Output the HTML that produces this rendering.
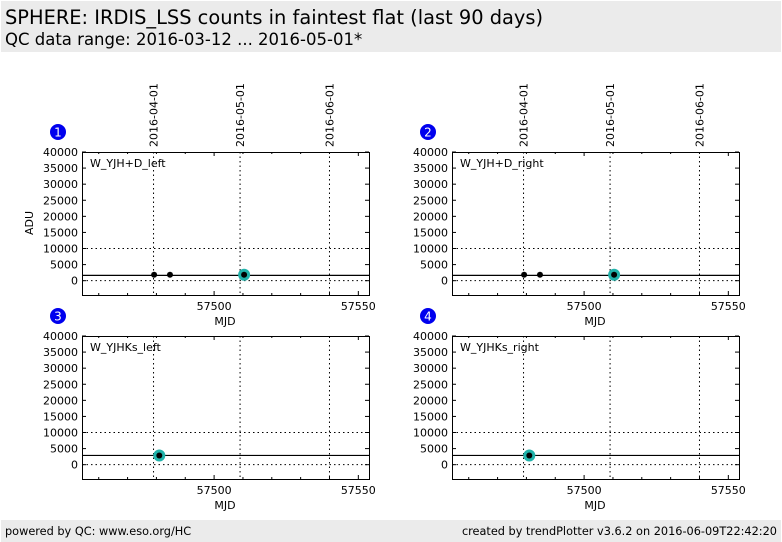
<!DOCTYPE html>
<html><head><meta charset="utf-8"><style>
body{margin:0;width:782px;height:542px;background:#fff;font-family:"Liberation Sans","DejaVu Sans",sans-serif;overflow:hidden;position:relative}
#hdr{position:absolute;left:1px;top:1px;width:780px;height:51px;background:#ebebeb}
#t1{position:absolute;left:4px;top:5px;font-size:19.4px;color:#000;font-family:"DejaVu Sans",sans-serif}
#t2{position:absolute;left:4px;top:29px;font-size:16.5px;color:#000;font-family:"DejaVu Sans",sans-serif}
#ftr{position:absolute;left:1px;top:520px;width:780px;height:22px;background:#ebebeb;font-size:11.3px;font-family:"DejaVu Sans",sans-serif}
#ftr span{position:absolute;top:5px}
svg{position:absolute;left:0;top:0}
</style></head><body>
<div id="hdr">
<div id="t1">SPHERE: IRDIS_LSS counts in faintest flat (last 90 days)</div>
<div id="t2">QC data range: 2016-03-12 ... 2016-05-01*</div>
</div>
<svg id="chart" width="782" height="542" font-family="DejaVu Sans, Liberation Sans, sans-serif"></svg>
<div id="ftr">
<span style="left:4px">powered by QC: www.eso.org/HC</span>
<span style="right:4px">created by trendPlotter v3.6.2 on 2016-06-09T22:42:20</span>
</div>
<script>
const panelNames = ["W_YJH+D_left","W_YJH+D_right","W_YJHKs_left","W_YJHKs_right"];
const panelX = [[57479.2,57484.7,57510.4],[57479.2,57484.7,57510.4],[57481],[57481]];
const panelY = [[1850,1850,1850],[1850,1850,1850],[2870],[2870]];
const highlightIdx = [2,2,0,0];
const medianVals = [1650,1650,2870,2870];
const yTicks = [0,5000,10000,15000,20000,25000,30000,35000,40000];
const xTicks = [57500,57550];
const dateLabels = ["2016-04-01","2016-05-01","2016-06-01"];
const dateMjd = [57479,57509,57540];

const NS="http://www.w3.org/2000/svg";
const svg=document.getElementById('chart');
function mk(t,a,p){const e=document.createElementNS(NS,t);for(const k in a)e.setAttribute(k,a[k]);(p||svg).appendChild(e);return e;}
const W=287, H=143, XMIN=57454.2, XMAX=57553.7, YMIN=-4450, YMAX=40000;
const origins=[[82,152],[452,152],[82,336],[452,336]];

origins.forEach((o,i)=>{
  const g=mk('g',{});
  
  
  const sx=v=>o[0]+(v-XMIN)/(XMAX-XMIN)*W;
  const sy=v=>o[1]+(YMAX-v)/(YMAX-YMIN)*H;
  [0,10000].forEach(v=>{const l=mk('line',{x1:o[0],x2:o[0]+W,y1:sy(v),y2:sy(v),stroke:'#000','stroke-dasharray':'1.5,3','stroke-width':1},g);
    });
  dateMjd.forEach((d,k)=>{const l=mk('line',{x1:sx(d),x2:sx(d),y1:o[1],y2:o[1]+H,stroke:'#000','stroke-dasharray':'1.5,3','stroke-width':1},g);
    
    if(i<2){const t=mk('text',{x:0,y:0,'font-size':11,transform:`translate(${sx(d)+4},${o[1]-5}) rotate(-90)`},g);t.textContent=dateLabels[k];
      }
  });
  const fr=mk('rect',{x:o[0]+0.5,y:o[1]+0.5,width:W,height:H,fill:'none',stroke:'#000'},g);
  
  yTicks.forEach(v=>{const y=sy(v);
    mk('line',{x1:o[0],x2:o[0]+4,y1:y,y2:y,stroke:'#000'},g);
    mk('line',{x1:o[0]+W-4,x2:o[0]+W,y1:y,y2:y,stroke:'#000'},g);
    const t=mk('text',{x:o[0]-4,y:y+4,'font-size':11,'text-anchor':'end'},g);t.textContent=v;
    });
  for(let m=57460;m<=57550;m+=10){const x=sx(m),big=(m%50===0);
    mk('line',{x1:x,x2:x,y1:o[1]+H,y2:o[1]+H-(big?4:2),stroke:'#000'},g);
    mk('line',{x1:x,x2:x,y1:o[1],y2:o[1]+(big?4:2),stroke:'#000'},g);}
  xTicks.forEach(v=>{const t=mk('text',{x:sx(v),y:o[1]+H+15,'font-size':11,'text-anchor':'middle'},g);t.textContent=v;
    });
  const xl=mk('text',{x:o[0]+143,y:o[1]+H+30,'font-size':11,'text-anchor':'middle'},g);xl.textContent='MJD';
  
  if(i===0){const yl=mk('text',{x:0,y:0,'font-size':11,'text-anchor':'middle',transform:`translate(33,${o[1]+71}) rotate(-90)`},g);yl.textContent='ADU';
    }
  const pn=mk('text',{x:o[0]+8,y:o[1]+15,'font-size':11},g);pn.textContent=panelNames[i];
  
  const bc=mk('circle',{cx:o[0]-24,cy:o[1]-20,r:8,fill:'#0000ee'},g);
  
  const bt=mk('text',{x:o[0]-24,y:o[1]-15.5,'font-size':12,fill:'#fff','text-anchor':'middle'},g);bt.textContent=i+1;
  const ml=mk('line',{x1:o[0],x2:o[0]+W,y1:sy(medianVals[i]),y2:sy(medianVals[i]),stroke:'#000','stroke-width':1.2},g);
  
  const h=highlightIdx[i];
  const hc=mk('circle',{cx:sx(panelX[i][h]),cy:sy(panelY[i][h]),r:6,fill:'#20b2aa'},g);
  
  panelX[i].forEach((x,k)=>{const c=mk('circle',{cx:sx(x),cy:sy(panelY[i][k]),r:3,fill:'#000'},g);
    });
});
</script>
</body></html>
